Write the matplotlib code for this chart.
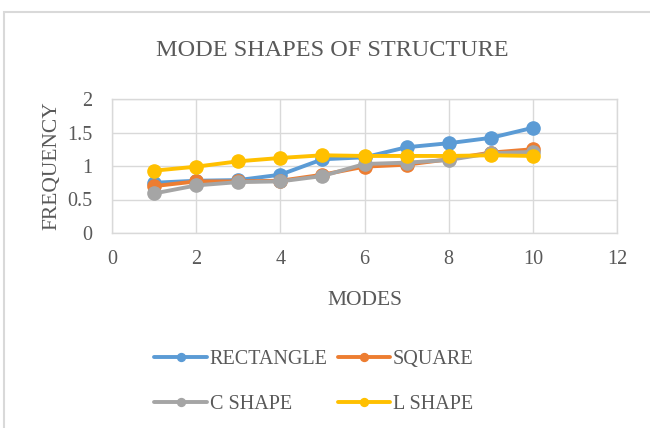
import matplotlib
matplotlib.use("Agg")
import matplotlib.pyplot as plt
from matplotlib.patches import Rectangle

modes = [1, 2, 3, 4, 5, 6, 7, 8, 9, 10]
rectangle = [0.75, 0.78, 0.79, 0.87, 1.10, 1.13, 1.28, 1.34, 1.42, 1.57]
square = [0.70, 0.77, 0.77, 0.78, 0.87, 0.99, 1.02, 1.10, 1.20, 1.25]
c_shape = [0.59, 0.71, 0.76, 0.77, 0.85, 1.03, 1.05, 1.09, 1.19, 1.21]
l_shape = [0.93, 0.99, 1.07, 1.12, 1.16, 1.15, 1.15, 1.15, 1.16, 1.15]

series_names = ["RECTANGLE", "SQUARE", "C SHAPE", "L SHAPE"]
colors = ["#5B9BD5", "#ED7D31", "#A5A5A5", "#FFC000"]
x_ticks = [0, 2, 4, 6, 8, 10, 12]
y_ticks = [0, 0.5, 1, 1.5, 2]
y_tick_labels = ["0", "0.5", "1", "1.5", "2"]

plt.rcParams['font.family'] = ['Liberation Serif', 'DejaVu Serif']
txt = "#595959"
grid = "#D9D9D9"

fig = plt.figure(figsize=(6.5, 4.28), dpi=100)
W, H = 650, 428
ax = fig.add_axes([112 / W, 1 - 233 / H, (617 - 112) / W, (233 - 99) / H])

# outer chart border
fig.patches.append(Rectangle((4 / W, -0.1), 1.2, 1 - 12 / H + 0.1,
                             transform=fig.transFigure, fill=False,
                             edgecolor="#D9D9D9", linewidth=1.5))

handles = []
for vals, name, col in zip([rectangle, square, c_shape, l_shape], series_names, colors):
    h, = ax.plot(modes, vals, color=col, linewidth=2.8, marker='o', markersize=9.5,
                 label=name, solid_capstyle='round')
    handles.append(h)

ax.set_xlim(0, 12)
ax.set_ylim(0, 2)
ax.set_xticks(x_ticks)
ax.set_yticks(y_ticks)
ax.set_yticklabels(y_tick_labels)
ax.grid(True, color=grid, linewidth=1)
ax.set_axisbelow(True)
for s in ax.spines.values():
    s.set_color(grid)
    s.set_linewidth(1)
ax.tick_params(length=0, labelsize=14.5, colors=txt)
ax.tick_params(axis='x', pad=12)
ax.tick_params(axis='y', pad=14)

ax.set_xlabel("MODES", fontsize=15.5, color=txt, labelpad=16)
ax.set_ylabel("FREQUENCY", fontsize=15.5, color=txt, labelpad=4)
fig.text(332 / W, 1 - 50 / H, "MODE SHAPES OF STRUCTURE", ha='center', va='center',
         fontsize=17.5, color=txt)

order = [0, 2, 1, 3]
leg = fig.legend([handles[i] for i in order], [series_names[i] for i in order],
                 loc='center', bbox_to_anchor=(314 / W, 1 - 382 / H), ncol=2,
                 frameon=False, fontsize=14.5, handlelength=2.6, handletextpad=0.15,
                 columnspacing=0.5, labelspacing=1.3, markerscale=0.6)
for t in leg.get_texts():
    t.set_color(txt)

fig.savefig("out.png", dpi=100)
